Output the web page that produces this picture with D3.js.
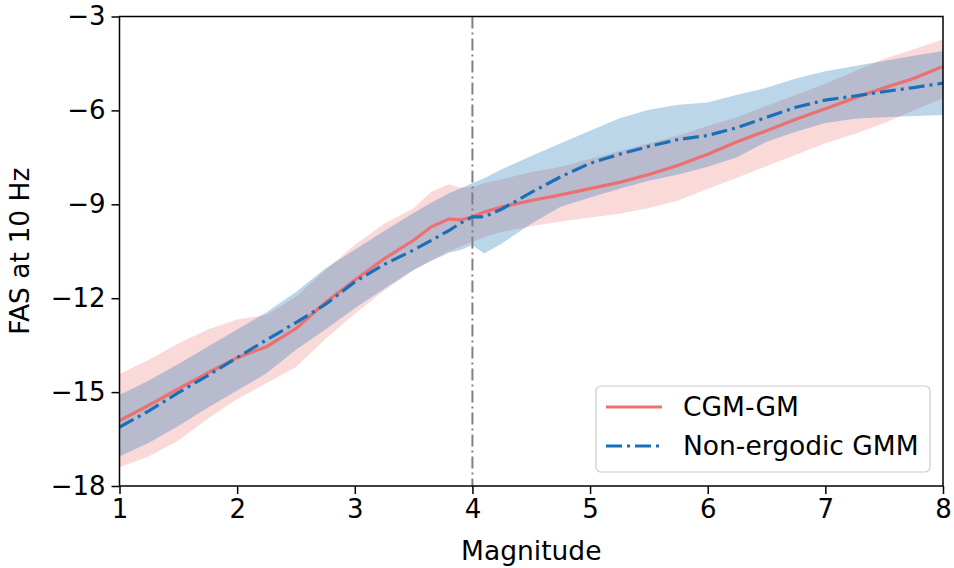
<!DOCTYPE html>
<head>
  <meta charset="utf-8">
  <script src="https://d3js.org/d3.v7.min.js"></script>
  <style>
    body { margin:0; background:#fff; }
    text { font-family: "DejaVu Sans", sans-serif; fill:#000; }
  </style>
</head>
<body>
<script>

  // magnitudes where the curves were read
  var magnitude = [1.0,1.25,1.5,1.75,2.0,2.25,2.5,2.75,3.0,3.25,3.5,3.65,3.8,3.9,4.0,4.1,
                   4.25,4.5,4.75,5.0,5.25,5.5,5.75,6.0,6.25,6.5,6.75,7.0,7.25,7.5,7.75,8.0];

  // CGM-GM mean and band
  var cgmMean = [-15.91,-15.42,-14.90,-14.39,-13.90,-13.55,-12.97,-12.14,-11.42,-10.74,-10.15,-9.72,-9.47,-9.50,-9.40,-9.25,
                 -9.08,-8.88,-8.70,-8.50,-8.30,-8.05,-7.75,-7.40,-7.00,-6.65,-6.28,-5.95,-5.60,-5.28,-4.98,-4.60];
  var cgmUpper = [-14.42,-13.97,-13.45,-13.00,-12.68,-12.53,-11.95,-11.10,-10.30,-9.62,-9.13,-8.60,-8.36,-8.47,-8.45,-8.33,
                  -8.20,-7.98,-7.80,-7.55,-7.30,-7.05,-6.80,-6.50,-6.22,-5.85,-5.50,-5.15,-4.75,-4.35,-4.05,-3.73];
  var cgmLower = [-17.40,-17.06,-16.55,-15.85,-15.22,-14.72,-14.20,-13.30,-12.50,-11.75,-11.10,-10.80,-10.50,-10.35,-10.20,-10.05,
                  -9.88,-9.70,-9.55,-9.42,-9.30,-9.12,-8.88,-8.50,-8.15,-7.78,-7.42,-7.05,-6.75,-6.40,-6.00,-5.61];

  // Non-ergodic GMM mean and band
  var gmmMean = [-16.12,-15.60,-15.02,-14.47,-13.90,-13.33,-12.78,-12.20,-11.48,-10.92,-10.46,-10.15,-9.84,-9.60,-9.40,-9.40,
                 -9.15,-8.62,-8.12,-7.69,-7.40,-7.15,-6.93,-6.80,-6.55,-6.22,-5.90,-5.67,-5.54,-5.40,-5.27,-5.13];
  var gmmUpper = [-15.09,-14.63,-14.10,-13.55,-13.00,-12.45,-11.80,-11.05,-10.45,-9.85,-9.28,-8.95,-8.65,-8.49,-8.33,-8.17,
                  -7.88,-7.46,-7.05,-6.65,-6.25,-5.98,-5.82,-5.75,-5.50,-5.28,-4.98,-4.75,-4.58,-4.42,-4.25,-4.10];
  var gmmLower = [-17.06,-16.62,-16.08,-15.50,-14.95,-14.40,-13.65,-13.00,-12.32,-11.70,-11.10,-10.80,-10.55,-10.46,-10.30,-10.57,
                  -10.25,-9.62,-9.08,-8.78,-8.50,-8.25,-8.05,-7.80,-7.50,-7.00,-6.68,-6.40,-6.27,-6.22,-6.18,-6.15];

  var xTicks = [1,2,3,4,5,6,7,8];
  var yTicks = [-18,-15,-12,-9,-6,-3];
  var splitMag = 4;

  var series = [
    {name:"CGM-GM", mean:cgmMean, upper:cgmUpper, lower:cgmLower, line:"#ec7070", fill:"#f08080", dash:null},
    {name:"Non-ergodic GMM", mean:gmmMean, upper:gmmUpper, lower:gmmLower, line:"#1a70b8", fill:"#1f77b4", dash:"16,5,3,5"}
  ];

  var W = 954, H = 568;
  var pLeft = 119.5, pRight = 943, pTop = 16.5, pBottom = 486;

  var svg = d3.select("body").append("svg")
    .attr("width", W).attr("height", H);

  var x = d3.scaleLinear().domain([1, 8]).range([pLeft, pRight]);
  var y = d3.scaleLinear().domain([-18, -3]).range([pBottom, pTop]);

  var area = d3.area()
    .x(function(d, i) { return x(magnitude[i]); })
    .y0(function(d) { return y(d[0]); })
    .y1(function(d) { return y(d[1]); });

  var line = d3.line()
    .x(function(d, i) { return x(magnitude[i]); })
    .y(function(d) { return y(d); });

  // bands
  series.forEach(function(s) {
    svg.append("path")
      .attr("d", area(s.lower.map(function(v, i) { return [v, s.upper[i]]; })))
      .attr("fill", s.fill)
      .attr("fill-opacity", 0.3);
  });

  // vertical marker
  svg.append("line")
    .attr("x1", x(splitMag)).attr("x2", x(splitMag))
    .attr("y1", pTop).attr("y2", pBottom)
    .attr("stroke", "#808080")
    .attr("stroke-width", 2)
    .attr("stroke-dasharray", "12,4,2,4");

  // mean lines
  series.forEach(function(s) {
    svg.append("path")
      .attr("d", line(s.mean))
      .attr("fill", "none")
      .attr("stroke", s.line)
      .attr("stroke-width", 3.2)
      .attr("stroke-dasharray", s.dash);
  });

  // axes
  var xAxis = d3.axisBottom(x).tickValues(xTicks).tickSize(8).tickPadding(6)
    .tickFormat(d3.format("d"));
  var yAxis = d3.axisLeft(y).tickValues(yTicks).tickSize(8).tickPadding(6)
    .tickFormat(function(d) { return d < 0 ? "\u2212" + Math.abs(d) : d; });

  var gx = svg.append("g").attr("transform", "translate(0," + pBottom + ")").call(xAxis);
  var gy = svg.append("g").attr("transform", "translate(" + pLeft + ",0)").call(yAxis);
  [gx, gy].forEach(function(g) {
    g.select(".domain").remove();
    g.selectAll("line").attr("stroke", "#000").attr("stroke-width", 1.5);
    g.selectAll("text").style("font-size", "26px").attr("fill", "#000");
  });

  svg.append("rect")
    .attr("x", pLeft).attr("y", pTop)
    .attr("width", pRight - pLeft).attr("height", pBottom - pTop)
    .attr("fill", "none").attr("stroke", "#000").attr("stroke-width", 1.5);

  svg.append("text")
    .attr("x", (pLeft + pRight) / 2).attr("y", 560)
    .attr("text-anchor", "middle")
    .style("font-size", "26.5px")
    .text("Magnitude");

  svg.append("text")
    .attr("transform", "translate(29," + ((pTop + pBottom) / 2) + ") rotate(-90)")
    .attr("text-anchor", "middle")
    .style("font-size", "26.5px")
    .text("FAS at 10 Hz");

  // legend
  var lg = svg.append("g").attr("transform", "translate(596,386)");
  lg.append("rect")
    .attr("width", 334).attr("height", 86)
    .attr("rx", 5)
    .attr("fill", "#fff").attr("fill-opacity", 0.8)
    .attr("stroke", "#cccccc").attr("stroke-width", 1.2);

  var item = lg.selectAll(".item").data(series).enter()
    .append("g").attr("class", "item")
    .attr("transform", function(d, i) { return "translate(0," + (21 + i * 39) + ")"; });
  item.append("line")
    .attr("x1", 10).attr("x2", 66)
    .attr("stroke", function(d) { return d.line; })
    .attr("stroke-width", 3.2)
    .attr("stroke-dasharray", function(d) { return d.dash; });
  item.append("text")
    .attr("x", 87).attr("y", 9)
    .style("font-size", "26.5px")
    .text(function(d) { return d.name; });

</script>
</body>
